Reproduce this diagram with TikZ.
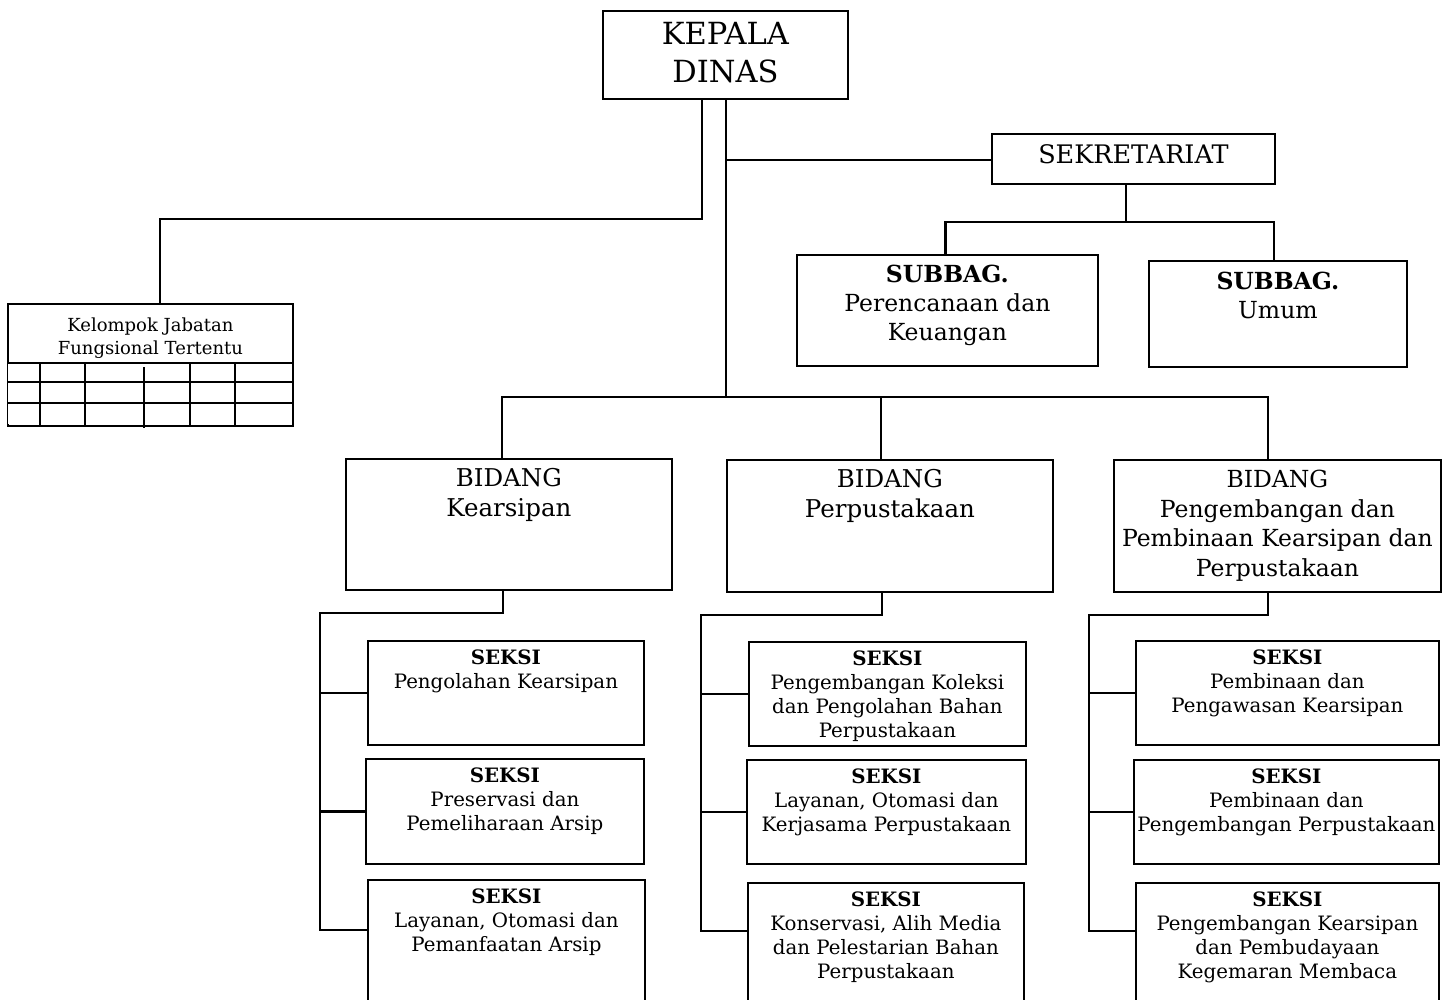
\documentclass[tikz,border=0pt]{standalone}
\usepackage{fontspec}
\setmainfont{DejaVu Serif}
\usepackage{tikz}

\tikzset{
  kotak/.style={draw, line width=1.8pt, inner sep=0pt, anchor=north west},
  tulisan/.style={inner sep=0pt, align=center, anchor=north},
  garis/.style={line width=2.4pt},
  seksi/.style={tulisan, font=\fontsize{19.8}{24}\selectfont},
}

\begin{document}
\begin{tikzpicture}[x=1pt,y=-1pt]
  \useasboundingbox (0,0) rectangle (1447,999);
  \clip (0,0) rectangle (1447,999);

  \node[kotak, minimum width=245pt, minimum height=88pt] (kepala) at (602,10) {};
  \node[tulisan, font=\fontsize{30.5}{38}\selectfont] (kepala-t) at ([yshift=-12pt]kepala.north) {KEPALA\\DINAS};

  \node[kotak, minimum width=283pt, minimum height=50pt] (sekretariat) at (991,133) {};
  \node[tulisan, font=\fontsize{25.5}{30}\selectfont] (sekretariat-t) at ([yshift=-11pt]sekretariat.north) {SEKRETARIAT};

  \node[kotak, minimum width=301pt, minimum height=111pt] (subbag1) at (796,254) {};
  \node[tulisan, font=\fontsize{23.5}{29}\selectfont] (subbag1-t) at ([yshift=-11pt]subbag1.north) {\textbf{SUBBAG.}\\Perencanaan dan\\Keuangan};
  \node[kotak, minimum width=258pt, minimum height=106pt] (subbag2) at (1148,260) {};
  \node[tulisan, font=\fontsize{23.5}{29}\selectfont] (subbag2-t) at ([yshift=-12pt]subbag2.north) {\textbf{SUBBAG.}\\Umum};

  \node[kotak, minimum width=285pt, minimum height=122pt] (kelompok) at (7,303) {};
  \node[tulisan, font=\fontsize{18}{23}\selectfont] (kelompok-t) at ([yshift=-15pt]kelompok.north) {Kelompok Jabatan\\Fungsional Tertentu};
  \fill[white] (8,364) rectangle (291,424);
  \foreach \y in {363,382,403}
    \draw[garis] (7,\y) -- (292,\y);
  \foreach \x in {40,85,190,235}
    \draw[garis] (\x,363) -- (\x,425);
  \draw[garis] (144,367) -- (144,428);

  \node[kotak, minimum width=326pt, minimum height=131pt] (bidang1) at (345,458) {};
  \node[tulisan, font=\fontsize{24.5}{30}\selectfont] (bidang1-t) at ([yshift=-10pt]bidang1.north) {BIDANG\\Kearsipan};
  \node[kotak, minimum width=326pt, minimum height=132pt] (bidang2) at (726,459) {};
  \node[tulisan, font=\fontsize{24.5}{30}\selectfont] (bidang2-t) at ([yshift=-10pt]bidang2.north) {BIDANG\\Perpustakaan};
  \node[kotak, minimum width=327pt, minimum height=132pt] (bidang3) at (1113,459) {};
  \node[tulisan, font=\fontsize{23.5}{29.5}\selectfont] (bidang3-t) at ([yshift=-11pt]bidang3.north) {BIDANG\\Pengembangan dan\\Pembinaan Kearsipan dan\\Perpustakaan};

  \node[kotak, minimum width=276pt, minimum height=104pt] (s11) at (367,640) {};
  \node[seksi] (s11-t) at ([yshift=-10pt]s11.north) {\textbf{SEKSI}\\Pengolahan Kearsipan};
  \node[kotak, minimum width=278pt, minimum height=105pt] (s12) at (365,758) {};
  \node[seksi] (s12-t) at ([yshift=-10pt]s12.north) {\textbf{SEKSI}\\Preservasi dan\\Pemeliharaan Arsip};
  \node[kotak, minimum width=277pt, minimum height=140pt] (s13) at (367,879) {};
  \node[seksi] (s13-t) at ([yshift=-10pt]s13.north) {\textbf{SEKSI}\\Layanan, Otomasi dan\\Pemanfaatan Arsip};

  \node[kotak, minimum width=277pt, minimum height=104pt] (s21) at (748,641) {};
  \node[seksi] (s21-t) at ([yshift=-10pt]s21.north) {\textbf{SEKSI}\\Pengembangan Koleksi\\dan Pengolahan Bahan\\Perpustakaan};
  \node[kotak, minimum width=279pt, minimum height=104pt] (s22) at (746,759) {};
  \node[seksi] (s22-t) at ([yshift=-10pt]s22.north) {\textbf{SEKSI}\\Layanan, Otomasi dan\\Kerjasama Perpustakaan};
  \node[kotak, minimum width=276pt, minimum height=140pt] (s23) at (747,882) {};
  \node[seksi] (s23-t) at ([yshift=-10pt]s23.north) {\textbf{SEKSI}\\Konservasi, Alih Media\\dan Pelestarian Bahan\\Perpustakaan};

  \node[kotak, minimum width=303pt, minimum height=104pt] (s31) at (1135,640) {};
  \node[seksi] (s31-t) at ([yshift=-10pt]s31.north) {\textbf{SEKSI}\\Pembinaan dan\\Pengawasan Kearsipan};
  \node[kotak, minimum width=305pt, minimum height=104pt] (s32) at (1133,759) {};
  \node[seksi] (s32-t) at ([yshift=-10pt]s32.north) {\textbf{SEKSI}\\Pembinaan dan\\Pengembangan Perpustakaan};
  \node[kotak, minimum width=303pt, minimum height=140pt] (s33) at (1135,882) {};
  \node[seksi] (s33-t) at ([yshift=-10pt]s33.north) {\textbf{SEKSI}\\Pengembangan Kearsipan\\dan Pembudayaan\\Kegemaran Membaca};

  \coordinate (kiri) at (702,219);
  \coordinate (fungsi) at (160,219);
  \coordinate (batang) at (726,397);
  \coordinate (cabang) at (1126,222);
  \coordinate (p1) at (320,613);
  \coordinate (k1) at (320,930);
  \coordinate (p2) at (701,615);
  \coordinate (k2) at (701,931);
  \coordinate (p3) at (1089,615);
  \coordinate (k3) at (1089,931);

  \draw[garis] (kepala.south -| kiri) -- (kiri) -- (fungsi) -- (kelompok.north -| fungsi);
  \draw[garis] (kepala.south -| batang) -- (batang);
  \draw[garis] (batang |- 0,160) -- (sekretariat.west |- 0,160);
  \draw[garis] (sekretariat.south -| cabang) -- (cabang);
  \draw[garis] ([xshift=-2pt]subbag1.north) |- (cabang) -| ([xshift=-4pt]subbag2.north);

  \draw[garis] ([xshift=-7pt]bidang1.north) |- (batang) -| ([xshift=-9.5pt]bidang3.north);
  \draw[garis] ([xshift=-9pt]bidang2.north) -- ([xshift=-9pt]bidang2.north |- batang);

  \draw[garis] ([xshift=-6pt]bidang1.south) |- (p1) -- (k1) -- (k1 -| s13.west);
  \draw[garis] (p1 |- s11.west) -- (s11.west);
  \draw[garis] (p1 |- s12.west) -- (s12.west);
  \draw[garis] ([xshift=-8pt]bidang2.south) |- (p2) -- (k2) -- (k2 -| s23.west);
  \draw[garis] (p2 |- s21.west) -- (s21.west);
  \draw[garis] (p2 |- s22.west) -- (s22.west);
  \draw[garis] ([xshift=-9.5pt]bidang3.south) |- (p3) -- (k3) -- (k3 -| s33.west);
  \draw[garis] (p3 |- s31.west) -- (s31.west);
  \draw[garis] (p3 |- s32.west) -- (s32.west);
\end{tikzpicture}
\end{document}
